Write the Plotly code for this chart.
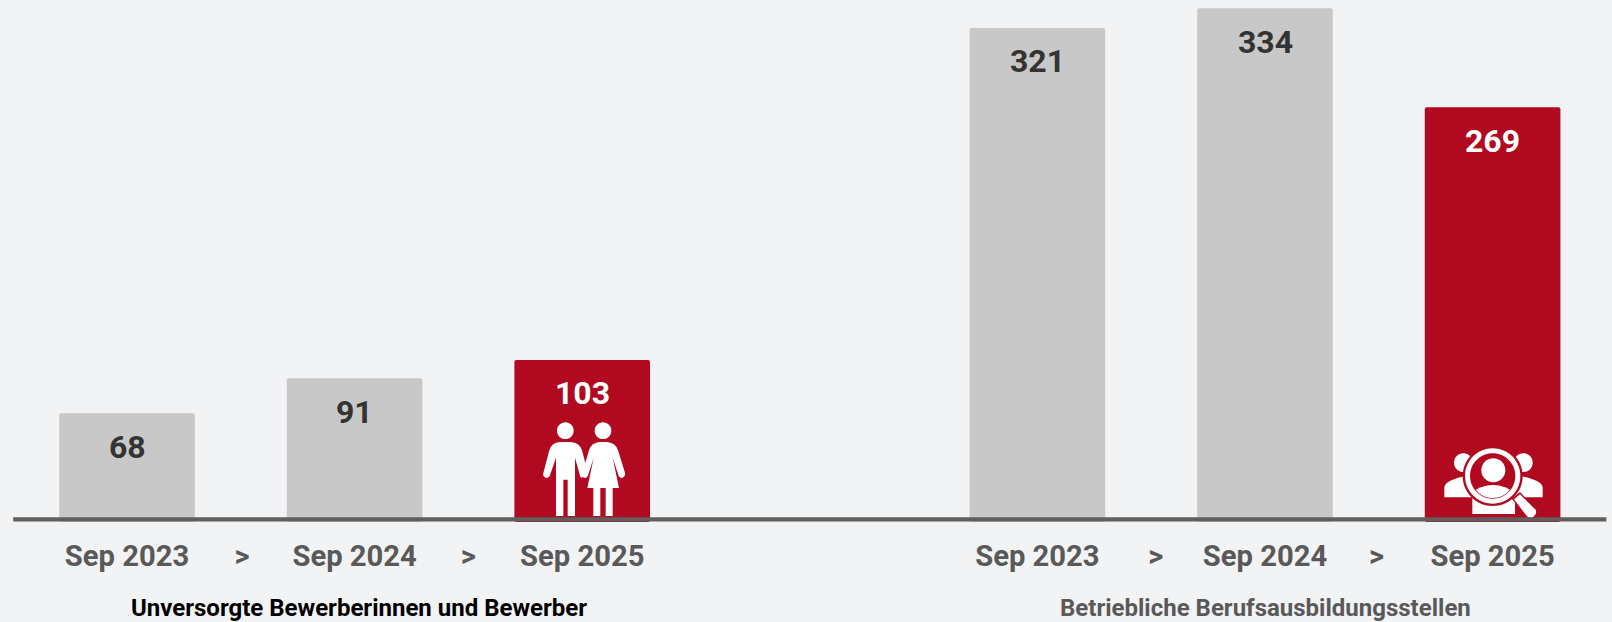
import re
import plotly.graph_objects as go

# ---- data ----
slots = [0, 1, 2, 4, 5, 6]
months = ["Sep 2023", "Sep 2024", "Sep 2025", "Sep 2023", "Sep 2024", "Sep 2025"]
values = [68, 91, 103, 321, 334, 269]
separator_slots = [0.505, 1.5, 4.52, 5.49]
group_titles = ["Unversorgte Bewerberinnen und Bewerber", "Betriebliche Berufsausbildungsstellen"]
group_title_slots = [1.02, 5.0]

# ---- style ----
GREY, RED = "#c8c8c8", "#b10a20"
BG = "#f2f3f5"
bar_colors = [GREY, GREY, RED, GREY, GREY, RED]
label_colors = ["#333333", "#333333", "#ffffff", "#333333", "#333333", "#ffffff"]
FOOT = 3.4        # bars reach slightly below the zero line
FONT = "Roboto"
PX_X0, PX_PER_SLOT = 127.0, 227.6
PX_Y0, PX_PER_UNIT = 516.5, 1.522
PLOT_BOTTOM = 521.7
W, H = 1612, 622


def tr(path, ox, oy, anchor_slot):
    """Icon outlines: pen coordinates at 3x of a pixel box at (ox, oy), anchored to a slot."""
    ax = PX_X0 + PX_PER_SLOT * anchor_slot
    out = []
    for cmd, args in re.findall(r"([MLQCZ])([^MLQCZ]*)", path):
        n = [float(v) for v in re.findall(r"-?[\d.]+", args)]
        pts = []
        for i in range(0, len(n), 2):
            pts.append(f"{ox + n[i] / 3 - ax:.2f},{PX_Y0 - (oy + n[i + 1] / 3):.2f}")
        out.append(cmd + " ".join(pts))
    return " ".join(out)


def circ(cx, cy, r):
    k = 0.5523 * r
    return (f"M{cx-r},{cy} C{cx-r},{cy-k} {cx-k},{cy-r} {cx},{cy-r} "
            f"C{cx+k},{cy-r} {cx+r},{cy-k} {cx+r},{cy} "
            f"C{cx+r},{cy+k} {cx+k},{cy+r} {cx},{cy+r} "
            f"C{cx-k},{cy+r} {cx-r},{cy+k} {cx-r},{cy} Z")


def icon_shape(path, ox, oy, slot, color="#ffffff"):
    return dict(type="path", xref="x", yref="y", xsizemode="pixel", ysizemode="pixel",
                xanchor=slot, yanchor=0, path=tr(path, ox, oy, slot),
                fillcolor=color, line=dict(width=0), layer="above")


shapes = []
# couple icon
couple = [
    circ(196, 241, 25), circ(309, 241, 25),
    "M168,497 L168,322 L149,377 Q140,388 131,378 Q128,372 131,364 L148,300 Q155,276 180,275 "
    "L212,275 Q238,276 246,300 L256,338 L267,300 Q274,276 300,275 L320,275 Q346,276 354,300 "
    "L374,364 Q377,372 373,378 Q365,388 356,377 L338,322 L357,413 L338,413 L338,497 L317,497 L317,413 "
    "L301,413 L301,497 L280,497 L280,413 L262,413 L281,322 L264,376 Q256,388 249,380 Q243,385 240,376 "
    "L225,322 L225,497 L203,497 L203,388 L190,388 L190,497 Z",
]
for p in couple:
    shapes.append(icon_shape(p, 500, 350, 2))

# searching-people icon
S = (1410, 430, 6)
shapes.append(icon_shape(circ(160, 97, 28), *S))
shapes.append(icon_shape(circ(340, 97, 28), *S))
shapes.append(icon_shape("M103,201 L103,172 Q105,150 165,138 L190,160 L185,201 Z", *S))
shapes.append(icon_shape("M398,201 L398,172 Q396,150 335,138 L310,160 L315,201 Z", *S))
shapes.append(icon_shape("M187,251 L187,190 L315,190 L315,251 Z", *S))
shapes.append(icon_shape(circ(248, 137, 90), *S, color=RED))
shapes.append(icon_shape("M305,205 L330,185 L378,238 Q382,252 370,262 Q360,268 350,258 Z", *S, color=RED))
shapes.append(icon_shape(circ(248, 137, 83), *S))
shapes.append(icon_shape(circ(248, 137, 68), *S, color=RED))
shapes.append(icon_shape(circ(250, 120, 36), *S))
shapes.append(icon_shape("M197,178 Q250,150 300,178 Q280,203 248,203 Q216,203 197,178 Z", *S))
shapes.append(icon_shape("M312,207 L330,192 L377,238 Q382,250 372,258 Q362,268 351,258 Z", *S))

# baseline
shapes.append(dict(type="line", xref="x", yref="y", x0=-0.5, x1=6.5, y0=-1.74, y1=-1.74,
                   line=dict(color="#5f5f5f", width=4.3), layer="above"))

fig = go.Figure(go.Bar(
    x=slots, y=[v + FOOT for v in values], base=-FOOT,
    marker=dict(color=bar_colors, line=dict(width=0), cornerradius=2),
    width=0.596, hoverinfo="skip",
))

annotations = []
for s, v, c in zip(slots, values, label_colors):
    annotations.append(dict(x=s, y=v, xref="x", yref="y", yanchor="middle", yshift=-33.5,
                            text=str(v), showarrow=False,
                            font=dict(family=FONT, size=32, color=c, weight="bold")))
title_y = (PLOT_BOTTOM - 608) / PLOT_BOTTOM
for s, t, c in zip(group_title_slots, group_titles, ["#000000", "#595959"]):
    annotations.append(dict(x=s, y=title_y, xref="x", yref="paper", yanchor="middle",
                            text=t, showarrow=False,
                            font=dict(family=FONT, size=24, color=c, weight="bold")))

tickvals = slots + separator_slots
ticktext = months + [">"] * len(separator_slots)

fig.update_layout(
    width=W, height=H, showlegend=False,
    margin=dict(l=0, r=0, t=0, b=H - PLOT_BOTTOM, pad=0),
    paper_bgcolor=BG, plot_bgcolor=BG,
    xaxis=dict(range=[-PX_X0 / PX_PER_SLOT, (W - PX_X0) / PX_PER_SLOT], tickvals=tickvals, ticktext=ticktext,
               showgrid=False, zeroline=False, showline=False, ticks="", ticklabelstandoff=14,
               tickangle=0, tickfont=dict(family=FONT, size=29.2, color="#595959", weight="bold")),
    yaxis=dict(range=[-FOOT, PX_Y0 / PX_PER_UNIT], visible=False, showgrid=False, zeroline=False),
    shapes=shapes, annotations=annotations,
)
fig.write_html("out.html", config={"displayModeBar": False},
               post_script="document.body.style.margin='0';document.body.style.background='%s';" % BG)
